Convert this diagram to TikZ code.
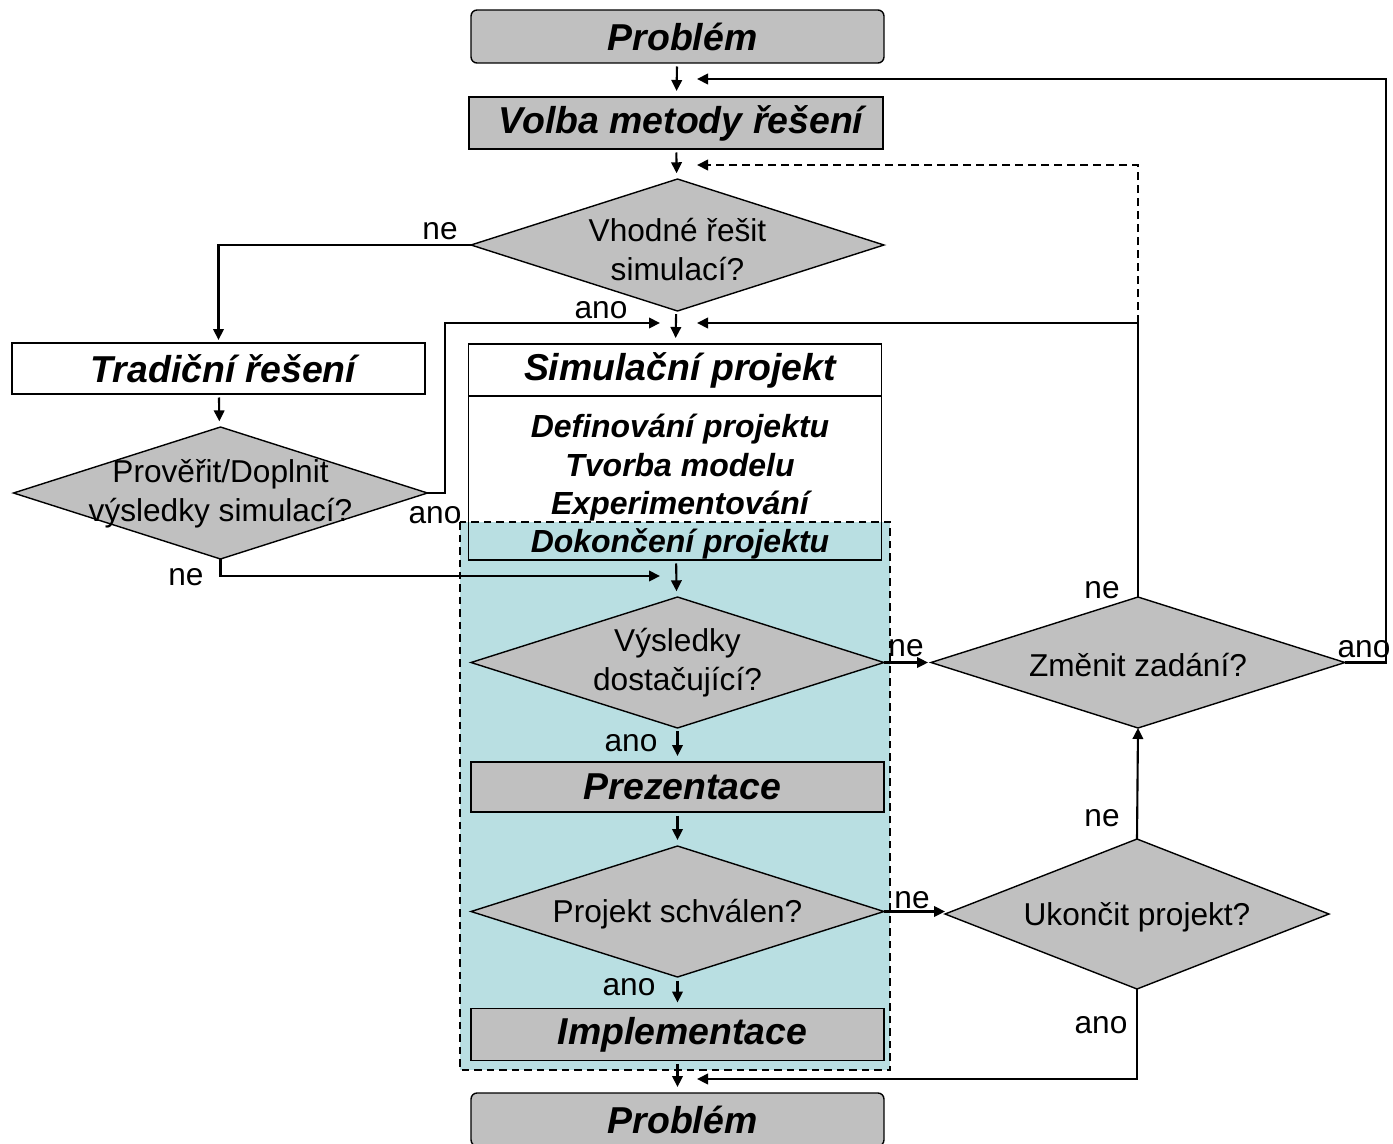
\documentclass[tikz,border=0pt]{standalone}
\usepackage{fontspec}
\setmainfont{Liberation Sans}
\usetikzlibrary{shapes.geometric,arrows.meta}

\definecolor{boxgray}{HTML}{C0C0C0}
\definecolor{phasecyan}{HTML}{B9DFE2}

\tikzset{
  head/.style={font=\fontsize{21.3}{25}\selectfont\bfseries\itshape,
    execute at begin node=\hspace*{0.2cm}},
  gbox/.style={draw, line width=0.8pt, fill=boxgray, minimum width=8.26cm,
    minimum height=1.04cm, inner sep=0pt, outer sep=0pt, head},
  wbox/.style={gbox, fill=white},
  query/.style={diamond, draw, line width=0.8pt, fill=boxgray,
    inner sep=0pt, outer sep=0pt},
  qtext/.style={font=\fontsize{18}{22}\selectfont, align=center, inner sep=0pt,
    yshift=-0.06cm},
  ans/.style={font=\fontsize{18}{22}\selectfont, inner sep=0pt},
  link/.style={line width=1.2pt},
  flow/.style={link, -{Triangle[length=2.2mm,width=2.1mm]}},
  down/.style={flow, shorten <=0.07cm, shorten >=0.12cm},
  ret/.style={flow, dash pattern=on 1.6mm off 1mm},
}

\begin{document}
\begin{tikzpicture}[x=0.02cm, y=-0.02cm]
  \useasboundingbox (0,0) rectangle (1393,1143);

  % faze dokonceni (pozadi)
  \draw[fill=phasecyan, dash pattern=on 1.5mm off 1mm, line width=1.1pt]
    (460,522) rectangle (890,1070);

  % hlavni sloupec
  \node[gbox, rounded corners=1.2mm, minimum height=1.06cm] (prob1) at (677.5,36.5) {Problém};
  \node[gbox, minimum width=8.28cm] (volba) at (676,123) {Volba metody řešení};
  \node[query, minimum width=8.26cm, minimum height=2.64cm,
    label={[qtext, yshift=-0.03cm]center:Vhodné řešit\\simulací?}] (vhodne) at (677.5,245) {};
  \node[wbox] (simhead) at (675,370) {Simulační projekt};
  \node[draw, line width=0.8pt, minimum width=8.26cm, minimum height=3.28cm,
    inner sep=0pt, outer sep=0pt,
    label={[align=center, inner sep=0pt, xshift=0.1cm, yshift=-0.18cm,
      font=\fontsize{18.2}{21.8}\selectfont\bfseries\itshape]center:Definování projektu\\Tvorba modelu\\Experimentování\\Dokončení projektu}]
    (simbody) at (675,478) {};
  \node[query, minimum width=8.26cm, minimum height=2.62cm,
    label={[qtext, yshift=0.06cm]center:Výsledky\\dostačující?}] (vysl) at (677.5,662.5) {};
  \node[gbox, minimum height=1.0cm] (prez) at (677.5,787) {Prezentace};
  \node[query, minimum width=8.26cm, minimum height=2.62cm,
    label={[qtext]center:Projekt schválen?}] (schv) at (677.5,911.5) {};
  \node[gbox] (impl) at (677.5,1034.5) {Implementace};
  \node[gbox, rounded corners=1.2mm, minimum height=1.06cm] (prob2) at (677.5,1119.5) {Problém};

  % levy sloupec
  \node[wbox, minimum height=1.02cm] (trad) at (218.5,368.5) {Tradiční řešení};
  \node[query, minimum width=8.28cm, minimum height=2.64cm,
    label={[qtext, yshift=0.04cm]center:Prověřit/Doplnit\\výsledky simulací?}] (proverit) at (220.5,493) {};

  % pravy sloupec
  \node[query, minimum width=8.28cm, minimum height=2.62cm,
    label={[qtext]center:Změnit zadání?}] (zmen) at (1138,662.5) {};
  \node[query, minimum width=7.68cm, minimum height=3.0cm,
    label={[qtext]center:Ukončit projekt?}] (ukon) at (1137,914) {};

  % body pro navraty
  \coordinate (retTop) at (697,79);
  \coordinate (retDash) at (697,165);
  \coordinate (inL) at (660,323);
  \coordinate (inR) at (697,323);
  \coordinate (inNe) at (660,576);
  \coordinate (retBot) at (697,1079);
  \coordinate (edgeR) at (1386,79);
  \coordinate (bendL) at (445,323);

  % spoje
  \draw[down] (prob1) -- (volba);
  \draw[down] (volba) -- (vhodne);
  \draw[down] (vhodne) -- (simhead);
  \draw[down] (simbody) -- (vysl);
  \draw[down] (vysl) -- (prez);
  \draw[down] (prez) -- (schv);
  \draw[down] (schv) -- (impl);
  \draw[down] (impl) -- (prob2);
  \draw[down] (trad) -- (proverit);
  \draw[flow, shorten >=0.06cm] (vhodne.west) -| (trad.north);
  \draw[flow] (proverit.east) -| (bendL) -- (inL);
  \draw[flow] (proverit.south) |- (inNe);
  \draw[flow, shorten >=0.06cm] (vysl.east) -- (zmen.west);
  \draw[flow] (schv.east) -- (schv.east -| ukon.west);
  \draw[flow] (ukon.north) -- (zmen.south);
  \draw[flow] (ukon.south) |- (retBot);
  \draw[flow] (zmen.east) -| (edgeR) -- (retTop);
  \draw[flow] (zmen.north) -- (zmen.north |- inR) -- (inR);
  \draw[ret] (zmen.north |- inR) |- (retDash);

  % popisky vetvi
  \node[ans] at (440,231) {ne};
  \node[ans] at (601,310) {ano};
  \node[ans] at (435,515) {ano};
  \node[ans] at (186,577) {ne};
  \node[ans] at (906,648) {ne};
  \node[ans] at (631,743) {ano};
  \node[ans] at (912,900) {ne};
  \node[ans] at (629,987) {ano};
  \node[ans] at (1102,590) {ne};
  \node[ans] at (1364,649) {ano};
  \node[ans] at (1102,818) {ne};
  \node[ans] at (1101,1025) {ano};
\end{tikzpicture}
\end{document}
